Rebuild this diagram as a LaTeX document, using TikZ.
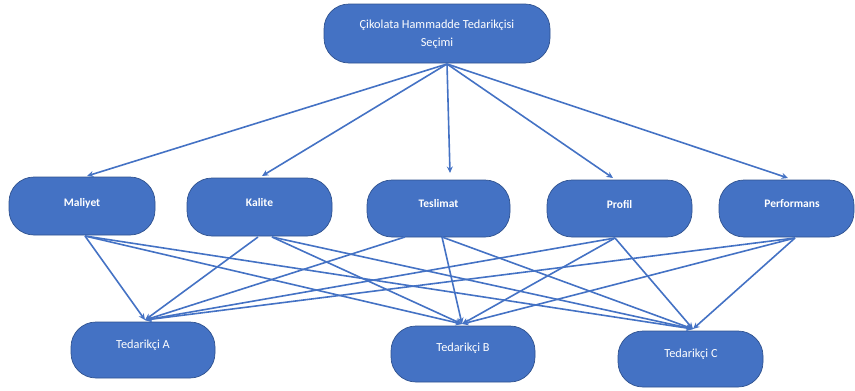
\documentclass[tikz,border=0pt]{standalone}
\usepackage{fontspec}
\setmainfont{Carlito}
\usetikzlibrary{arrows.meta}
\definecolor{boxfill}{HTML}{4472C4}
\definecolor{boxline}{HTML}{2F528F}
\definecolor{conn}{HTML}{4472C4}
\tikzset{
  box/.style={draw=boxline, line width=0.7pt, fill=boxfill, rounded corners=25pt, inner sep=0pt},
  txt/.style={text=white, font=\fontsize{12.3}{18}\selectfont, align=center, inner sep=0pt},
  txtb/.style={text=white, font=\fontsize{11.5}{14}\selectfont\bfseries, align=center, inner sep=0pt},
  conn/.style={draw=conn, line width=1.6pt, -{Stealth[length=6.5pt,width=6pt]}},
}
\begin{document}
\begin{tikzpicture}[x=1pt,y=-1pt]
\useasboundingbox (0,0) rectangle (855,391);
% top
\node[box, minimum width=226pt, minimum height=59pt] (top) at (437,33.5) {};
\node[txt] (top-t) at (437,34) {Çikolata Hammadde Tedarikçisi\\Seçimi};
% middle row
\node[box, minimum width=146pt, minimum height=58pt] (mal) at (82,206) {};
\node[txtb] (mal-t) at (82,203) {Maliyet};
\node[box, minimum width=145pt, minimum height=58pt] (kal) at (259.5,207) {};
\node[txtb] (kal-t) at (259.5,203) {Kalite};
\node[box, minimum width=143pt, minimum height=57pt] (tes) at (438.5,208.5) {};
\node[txtb] (tes-t) at (438.5,204) {Teslimat};
\node[box, minimum width=145pt, minimum height=57pt] (pro) at (619.5,208.5) {};
\node[txtb] (pro-t) at (619.5,204) {Profil};
\node[box, minimum width=135pt, minimum height=57pt] (per) at (786.5,208.5) {};
\node[txtb] (per-t) at (792,204) {Performans};
% bottom row
\node[box, minimum width=144pt, minimum height=56pt] (A) at (143,350) {};
\node[txt] (A-t) at (143,345) {Tedarikçi A};
\node[box, minimum width=144pt, minimum height=56pt] (B) at (463,354) {};
\node[txt] (B-t) at (463,348) {Tedarikçi B};
\node[box, minimum width=145pt, minimum height=56pt] (C) at (690.5,359) {};
\node[txt] (C-t) at (691,354) {Tedarikçi C};
% connection points
\coordinate (top-o) at (447,64);
\coordinate (mal-i) at (87,176);
\coordinate (kal-i) at (262,176);
\coordinate (tes-i) at (450,173);
\coordinate (pro-i) at (613,178);
\coordinate (per-i) at (788,178);
\coordinate (mal-o) at (85,236);
\coordinate (kal-oa) at (258,237);
\coordinate (kal-o) at (272,237);
\coordinate (tes-oa) at (405,237);
\coordinate (tes-o) at (442,237);
\coordinate (pro-o) at (615,238);
\coordinate (per-o) at (795,238);
\coordinate (A-i) at (145,320);
\coordinate (B-i) at (462,324);
\coordinate (C-i) at (693,329);
% top connectors
\foreach \t in {mal-i,kal-i,tes-i,pro-i,per-i} \draw[conn] (top-o) -- (\t);
% middle to bottom
\draw[conn] (mal-o) -- (A-i);
\draw[conn] (mal-o) -- (B-i);
\draw[conn] (mal-o) -- (C-i);
\draw[conn] (kal-oa) -- (A-i);
\draw[conn] (kal-o) -- (B-i);
\draw[conn] (kal-o) -- (C-i);
\draw[conn] (tes-oa) -- (A-i);
\draw[conn] (tes-o) -- (B-i);
\draw[conn] (tes-o) -- (C-i);
\draw[conn] (pro-o) -- (A-i);
\draw[conn] (pro-o) -- (B-i);
\draw[conn] (pro-o) -- (C-i);
\draw[conn] (per-o) -- (A-i);
\draw[conn] (per-o) -- (B-i);
\draw[conn] (per-o) -- (C-i);
\end{tikzpicture}
\end{document}
